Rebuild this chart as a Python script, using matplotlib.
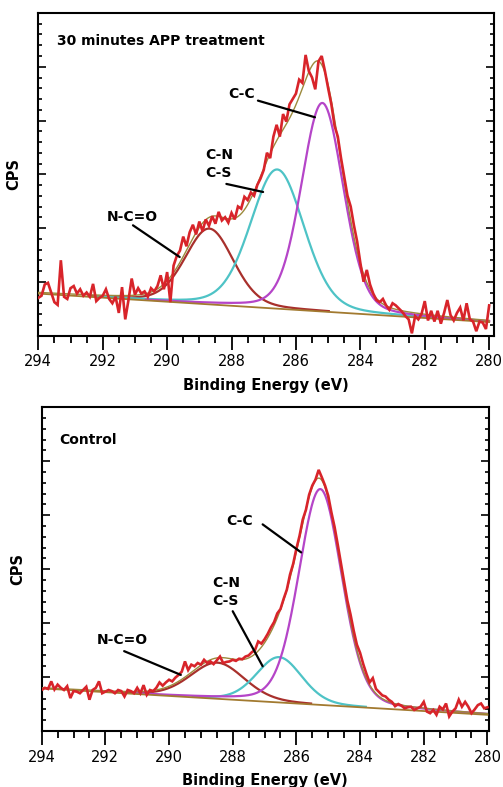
import numpy as np
import matplotlib
matplotlib.use("Agg")
import matplotlib.pyplot as plt
from matplotlib.ticker import MultipleLocator

# ---------------- data ----------------
# measured spectra, 294.0 -> 280.0 eV, step 0.1 eV (CPS in arbitrary units, x1000)
energy_start, energy_end = 294.0, 280.0

cps_treated = [
    0.70, 0.74, 0.95, 0.98, 0.80, 0.62, 0.57, 1.40, 0.72, 0.68,
    0.88, 0.92, 0.78, 0.86, 0.74, 0.80, 0.72, 0.96, 0.64, 0.70,
    0.74, 0.86, 0.68, 0.60, 0.72, 0.42, 0.90, 0.30, 0.66, 1.06,
    0.76, 0.88, 0.78, 0.82, 0.72, 0.88, 0.82, 0.92, 1.12, 0.86,
    1.18, 0.62, 1.30, 1.48, 1.58, 1.84, 1.66, 1.92, 2.06, 1.88,
    2.12, 1.94, 2.16, 2.04, 2.22, 2.08, 2.30, 2.14, 2.20, 2.10,
    2.28, 2.16, 2.40, 2.36, 2.58, 2.52, 2.66, 2.60, 2.80, 2.92,
    3.08, 3.40, 3.30, 3.70, 3.92, 3.70, 4.12, 3.98, 4.30, 4.40,
    4.50, 4.76, 4.70, 5.22, 4.92, 4.80, 4.58, 5.10, 5.20, 4.92,
    4.60, 4.30, 3.90, 3.70, 3.30, 2.95, 2.60, 2.40, 2.05, 1.75,
    1.35, 1.00, 1.22, 0.95, 0.78, 0.66, 0.62, 0.68, 0.56, 0.48,
    0.60, 0.56, 0.50, 0.44, 0.36, 0.30, 0.04, 0.36, 0.30, 0.40,
    0.64, 0.28, 0.46, 0.26, 0.46, 0.22, 0.42, 0.66, 0.38, 0.28,
    0.42, 0.52, 0.28, 0.60, 0.30, 0.26, 0.08, 0.26, 0.24, 0.12,
    0.56,
]

cps_control = [
    0.76, 0.80, 0.78, 0.92, 0.77, 0.86, 0.80, 0.76, 0.83, 0.61,
    0.74, 0.73, 0.70, 0.76, 0.82, 0.58, 0.76, 0.80, 0.92, 0.70,
    0.73, 0.76, 0.74, 0.70, 0.76, 0.74, 0.64, 0.76, 0.74, 0.70,
    0.80, 0.70, 0.85, 0.67, 0.76, 0.74, 0.80, 0.90, 0.84, 0.90,
    0.95, 0.92, 0.99, 1.04, 1.10, 1.29, 1.13, 1.23, 1.20, 1.26,
    1.23, 1.32, 1.26, 1.29, 1.24, 1.31, 1.38, 1.26, 1.28, 1.29,
    1.32, 1.30, 1.34, 1.33, 1.38, 1.40, 1.46, 1.50, 1.66, 1.62,
    1.70, 1.80, 1.92, 2.02, 2.18, 2.26, 2.45, 2.62, 2.90, 3.10,
    3.38, 3.62, 3.92, 4.10, 4.38, 4.55, 4.66, 4.84, 4.70, 4.55,
    4.36, 4.05, 3.78, 3.45, 3.10, 2.76, 2.42, 2.16, 1.86, 1.60,
    1.45, 1.24, 1.06, 0.90, 0.98, 0.78, 0.72, 0.66, 0.64, 0.58,
    0.54, 0.46, 0.50, 0.47, 0.42, 0.44, 0.45, 0.39, 0.42, 0.45,
    0.54, 0.36, 0.33, 0.39, 0.30, 0.45, 0.40, 0.51, 0.27, 0.36,
    0.42, 0.58, 0.45, 0.54, 0.45, 0.33, 0.40, 0.48, 0.51, 0.42,
    0.44,
]

# fitted peak parameters: N-C=O, C-N/C-S, C-C
peak_names = ["N-C=O", "C-N\nC-S", "C-C"]
treated_centers = [288.69, 286.58, 285.18]
treated_heights = [1.41, 2.59, 3.88]
treated_hwhm = [0.88, 0.98, 0.77]
treated_bg = [0.78, 0.25]          # linear background at 294 and 280 eV

control_centers = [288.48, 286.54, 285.25]
control_heights = [0.67, 0.84, 4.00]
control_hwhm = [1.00, 0.84, 0.80]
control_bg = [0.79, 0.30]

lorentz_fraction = 0.2

# ---------------- style ----------------
RED = "#d8242a"
COMP_COLORS = ["#a8302c", "#4ec3c6", "#b545c8"]
BG_COLOR = "#a27a30"
ENV_COLOR = "#9c8a3c"

plt.rcParams["font.family"] = ["DejaVu Sans"]

fig = plt.figure(figsize=(5.03, 7.87), dpi=100)
W, H = 503.0, 787.0
ax_top = fig.add_axes([38.3 / W, 1 - 335.5 / H, (494.0 - 38.3) / W, (335.5 - 13.0) / H])
ax_bot = fig.add_axes([41.7 / W, 1 - 731.0 / H, (489.0 - 41.7) / W, (731.0 - 407.3) / H])


def pv(x, c, a, h, m):
    u = ((x - c) / h) ** 2
    return a * ((1 - m) * np.exp(-np.log(2) * u) + m / (1 + u))


def draw(ax, cps, centers, heights, hwhm, bg, xright, title, labels):
    e = np.linspace(energy_start, energy_end, len(cps))
    xf = np.linspace(energy_start, energy_end, 701)
    base = bg[0] + (bg[1] - bg[0]) * (energy_start - xf) / (energy_start - energy_end)
    env = base.copy()
    for c, a, h, col in zip(centers, heights, hwhm, COMP_COLORS):
        comp = pv(xf, c, a, h, lorentz_fraction)
        env += comp
        y = base + comp
        y = np.where(comp > 0.015, y, np.nan)
        ax.plot(xf, y, color=col, lw=1.6, zorder=2)
    ax.plot(xf, base, color=BG_COLOR, lw=1.3, zorder=3)
    ax.plot(xf, env, color=ENV_COLOR, lw=1.0, zorder=3)
    ax.plot(e, cps, color=RED, lw=1.9, zorder=4, solid_joinstyle="miter")

    ax.set_xlim(294, xright)
    ax.set_ylim(0, 6)
    ax.xaxis.set_major_locator(MultipleLocator(2))
    ax.xaxis.set_minor_locator(MultipleLocator(0.5))
    ax.yaxis.set_major_locator(MultipleLocator(1))
    ax.yaxis.set_minor_locator(MultipleLocator(0.2))
    ax.tick_params(axis="x", which="both", direction="out", bottom=True, top=False,
                   labelsize=10.5, width=1.3, pad=3.5, colors="black")
    ax.tick_params(axis="x", which="major", length=10)
    ax.tick_params(axis="x", which="minor", length=5)
    ax.tick_params(axis="y", which="both", direction="in", left=True, right=True,
                   labelleft=False, width=1.2)
    ax.tick_params(axis="y", which="major", length=6)
    ax.tick_params(axis="y", which="minor", length=3)
    for s in ax.spines.values():
        s.set_linewidth(1.5)
    ax.set_xlabel("Binding Energy (eV)", fontsize=10.5, fontweight="bold", labelpad=6)
    ax.set_ylabel("CPS", fontsize=10.5, fontweight="bold", labelpad=12)

    ax.text(title[1], title[2], title[0], fontsize=10, fontweight="bold",
            ha="left", va="center", zorder=6)
    for name, (tx, ty, x0, y0, x1, y1) in zip(peak_names, labels):
        ax.text(tx, ty, name, fontsize=10, fontweight="bold", ha="center",
                va="center", multialignment="left", linespacing=1.35, zorder=6)
        ax.annotate("", xy=(x1, y1), xytext=(x0, y0),
                    arrowprops=dict(arrowstyle="-", color="black", lw=1.6,
                                    shrinkA=0, shrinkB=0), zorder=6)


draw(ax_top, cps_treated, treated_centers, treated_heights, treated_hwhm, treated_bg,
     279.85, ("30 minutes APP treatment", 293.43, 5.47),
     [(291.07, 2.20, 291.06, 2.05, 289.61, 1.46),
      (288.39, 3.19, 288.16, 2.82, 287.02, 2.67),
      (287.68, 4.50, 287.18, 4.37, 285.41, 4.06)])

draw(ax_bot, cps_control, control_centers, control_heights, control_hwhm, control_bg,
     279.95, ("Control", 293.46, 5.40),
     [(291.46, 1.69, 291.41, 1.48, 289.63, 1.04),
      (288.19, 2.58, 288.00, 2.22, 287.06, 1.20),
      (287.79, 3.89, 287.06, 3.83, 285.85, 3.31)])

fig.savefig("out.png", dpi=100)
